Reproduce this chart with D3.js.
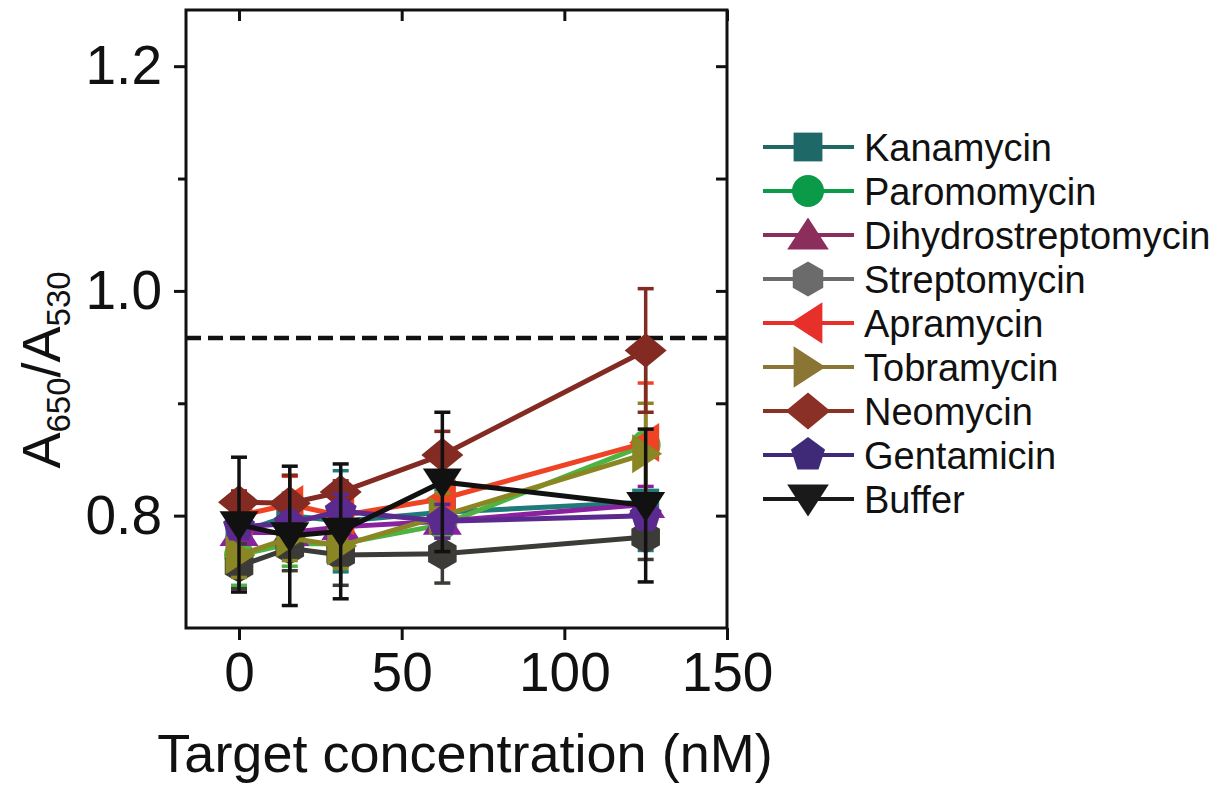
<!DOCTYPE html>
<html>
<head>
<meta charset="utf-8">
<script src="https://cdn.jsdelivr.net/npm/d3@7"></script>
<style>
  body { margin: 0; background: #fff; }
  svg text { font-family: "Liberation Sans", Arial, sans-serif; fill: #111; }
</style>
</head>
<body>
<div id="canvas-area"></div>
<script>
//data
let concentrations = [0, 15.6, 31.25, 62.5, 125];
let seriesNames = ["Kanamycin", "Paromomycin", "Dihydrostreptomycin", "Streptomycin",
                   "Apramycin", "Tobramycin", "Neomycin", "Gentamicin", "Buffer"];

let kanamycin    = [0.785, 0.800, 0.795, 0.803, 0.812];
let paromomycin  = [0.765, 0.775, 0.775, 0.792, 0.863];
let dihydro      = [0.785, 0.785, 0.790, 0.795, 0.810];
let streptomycin = [0.755, 0.771, 0.765, 0.766, 0.781];
let apramycin    = [0.800, 0.810, 0.800, 0.815, 0.865];
let tobramycin   = [0.765, 0.780, 0.773, 0.800, 0.855];
let neomycin     = [0.812, 0.811, 0.821, 0.854, 0.947];
let gentamicin   = [0.790, 0.793, 0.804, 0.795, 0.800];
let buffer       = [0.792, 0.782, 0.786, 0.830, 0.809];

let kanamycinErr    = [0.028, 0.020, 0.045, 0.020, 0.043];
let paromomycinErr  = [0.027, 0.020, 0.020, 0.020, 0.076];
let dihydroErr      = [0.017, 0.015, 0.020, 0.020, 0.016];
let streptomycinErr = [0.020, 0.020, 0.027, 0.026, 0.020];
let apramycinErr    = [0.010, 0.025, 0.020, 0.020, 0.053];
let tobramycinErr   = [0.020, 0.020, 0.020, 0.020, 0.045];
let neomycinErr     = [0.010, 0.025, 0.010, 0.021, 0.055];
let gentamicinErr   = [0.010, 0.010, 0.015, 0.015, 0.012];
let bufferErr       = [0.060, 0.062, 0.060, 0.062, 0.068];

let thresholdValue = 0.958;
let xTicks = [0, 50, 100, 150];
let yMajorTicks = [0.8, 1.0, 1.2];
let yMinorTicks = [0.9, 1.1];

let seriesValues = [kanamycin, paromomycin, dihydro, streptomycin, apramycin,
                    tobramycin, neomycin, gentamicin, buffer];
let seriesErrors = [kanamycinErr, paromomycinErr, dihydroErr, streptomycinErr, apramycinErr,
                    tobramycinErr, neomycinErr, gentamicinErr, bufferErr];
//the plotted marks are a little brighter than the legend swatches in the original
let plotColors   = ["#1f7a7a", "#4db443", "#8a22a0", "#3d3b37", "#ee4324",
                    "#8a8624", "#832a22", "#5a2a8e", "#111111"];
let legendColors = ["#1f6868", "#0b9a48", "#8b2e5c", "#6b6b6b", "#e8302a",
                    "#8b7535", "#8b3026", "#3f2a78", "#1a1a1a"];
let seriesShapes = ["square", "circle", "triUp", "hexagon", "triLeft",
                    "triRight", "diamond", "pentagon", "triDown"];

//build canvas
var canvas = d3.select("#canvas-area")
        .append("svg")
        .attr("width", 1225)
        .attr("height", 787);

let x = d3.scaleLinear().domain([-16.3, 150]).range([186, 727]);
let y = d3.scaleLinear().domain([0.70, 1.25]).range([628, 10]);

//Returns a polygon / circle path for a marker centred on 0,0
function markerPath(shape, r){
  if(shape == "circle"){
    return d3.symbol().type(d3.symbolCircle).size(Math.PI * r * r)();
  }
  let pts = [];
  if(shape == "square"){
    pts = [[-r*0.9, -r*0.9], [r*0.9, -r*0.9], [r*0.9, r*0.9], [-r*0.9, r*0.9]];
  } else if(shape == "diamond"){
    pts = [[-r*1.4, 0], [0, -r*1.15], [r*1.4, 0], [0, r*1.15]];
  } else if(shape == "triUp"){
    pts = [[0, -r*1.1], [r*1.3, r*0.9], [-r*1.3, r*0.9]];
  } else if(shape == "triDown"){
    pts = [[0, r*1.1], [r*1.3, -r*0.9], [-r*1.3, -r*0.9]];
  } else if(shape == "triLeft"){
    pts = [[-r*1.1, 0], [r*0.9, -r*1.3], [r*0.9, r*1.3]];
  } else if(shape == "triRight"){
    pts = [[r*1.1, 0], [-r*0.9, -r*1.3], [-r*0.9, r*1.3]];
  } else if(shape == "hexagon"){
    for(let i=0; i<6; i++){
      let a = Math.PI/2 + i*Math.PI/3;
      pts.push([Math.cos(a)*r*1.1, -Math.sin(a)*r*1.1]);
    }
  } else if(shape == "pentagon"){
    for(let i=0; i<5; i++){
      let a = Math.PI/2 + i*2*Math.PI/5;
      pts.push([Math.cos(a)*r*1.12, -Math.sin(a)*r*1.12]);
    }
  }
  return "M" + pts.map(p => p[0].toFixed(2) + "," + p[1].toFixed(2)).join("L") + "Z";
}

//dashed reference level
canvas.append("line")
  .attr("x1", x.range()[0]).attr("x2", x.range()[1])
  .attr("y1", y(thresholdValue)).attr("y2", y(thresholdValue))
  .attr("stroke", "#111")
  .attr("stroke-width", 4.5)
  .attr("stroke-dasharray", "15,7");

//series: lines, error bars, markers
let lineGen = d3.line()
  .x((d, i) => x(concentrations[i]))
  .y(d => y(d));

for(let s=0; s<seriesNames.length; s++){
  let g = canvas.append("g");
  let color = plotColors[s];

  g.append("path")
    .attr("d", lineGen(seriesValues[s]))
    .attr("fill", "none")
    .attr("stroke", color)
    .attr("stroke-width", 5);

  seriesValues[s].forEach(function(v, i){
    let cx = x(concentrations[i]);
    let top = y(v + seriesErrors[s][i]);
    let bottom = y(v - seriesErrors[s][i]);
    g.append("line")
      .attr("x1", cx).attr("x2", cx)
      .attr("y1", top).attr("y2", bottom)
      .attr("stroke", color).attr("stroke-width", 3.5);
    [top, bottom].forEach(function(capY){
      g.append("line")
        .attr("x1", cx - 8).attr("x2", cx + 8)
        .attr("y1", capY).attr("y2", capY)
        .attr("stroke", color).attr("stroke-width", 3.5);
    });
    g.append("path")
      .attr("d", markerPath(seriesShapes[s], 15))
      .attr("transform", "translate(" + cx + "," + y(v) + ")")
      .attr("fill", color);
  });
}

//axes frame
let frame = canvas.append("g");
frame.append("rect")
  .attr("x", x.range()[0]).attr("y", y.range()[1])
  .attr("width", x.range()[1] - x.range()[0])
  .attr("height", y.range()[0] - y.range()[1])
  .attr("fill", "none")
  .attr("stroke", "#111")
  .attr("stroke-width", 3);

//bottom axis with outward ticks
let xAxis = canvas.append("g")
  .attr("transform", "translate(0," + y.range()[0] + ")")
  .call(d3.axisBottom(x).tickValues(xTicks).tickSize(12).tickPadding(12).tickFormat(d3.format("d")));
//top mirror ticks, inside
let xAxisTop = canvas.append("g")
  .attr("transform", "translate(0," + y.range()[1] + ")")
  .call(d3.axisTop(x).tickValues(xTicks).tickSize(-11).tickFormat(""));

//left axis: major and minor ticks outward
let yAxis = canvas.append("g")
  .attr("transform", "translate(" + x.range()[0] + ",0)")
  .call(d3.axisLeft(y).tickValues(yMajorTicks).tickSize(12).tickPadding(12).tickFormat(d3.format(".1f")));
let yAxisMinor = canvas.append("g")
  .attr("transform", "translate(" + x.range()[0] + ",0)")
  .call(d3.axisLeft(y).tickValues(yMinorTicks).tickSize(8).tickFormat(""));
//right mirror ticks, inside
let yAxisRight = canvas.append("g")
  .attr("transform", "translate(" + x.range()[1] + ",0)")
  .call(d3.axisRight(y).tickValues(yMajorTicks.concat(yMinorTicks)).tickSize(-11).tickFormat(""));

[xAxis, xAxisTop, yAxis, yAxisMinor, yAxisRight].forEach(function(a){
  a.select(".domain").remove();
  a.selectAll(".tick line").attr("stroke", "#111").attr("stroke-width", 3);
  a.selectAll(".tick text")
    .attr("font-size", 55)
    .attr("fill", "#111")
    .style("font-family", "'Liberation Sans', Arial, sans-serif");
});

//axis titles
canvas.append("text")
  .attr("x", 465)
  .attr("y", 772)
  .attr("text-anchor", "middle")
  .attr("font-size", 54)
  .text("Target concentration (nM)");

let yTitle = canvas.append("text")
  .attr("transform", "translate(60,370) rotate(-90)")
  .attr("text-anchor", "middle")
  .attr("font-size", 54);
yTitle.append("tspan").text("A");
yTitle.append("tspan").attr("font-size", 33).attr("dy", 10).text("650");
yTitle.append("tspan").attr("dy", -10).text("/A");
yTitle.append("tspan").attr("font-size", 33).attr("dy", 10).text("530");

//legend
let legend = canvas.append("g");
seriesNames.forEach(function(name, i){
  let rowY = 147 + i * 44;
  legend.append("line")
    .attr("x1", 763).attr("x2", 854)
    .attr("y1", rowY).attr("y2", rowY)
    .attr("stroke", legendColors[i])
    .attr("stroke-width", 4);
  legend.append("path")
    .attr("d", markerPath(seriesShapes[i], 16))
    .attr("transform", "translate(808," + rowY + ")")
    .attr("fill", legendColors[i]);
  legend.append("text")
    .attr("x", 864)
    .attr("y", rowY)
    .attr("dy", "0.36em")
    .attr("font-size", 38)
    .text(name);
});
</script>
</body>
</html>
